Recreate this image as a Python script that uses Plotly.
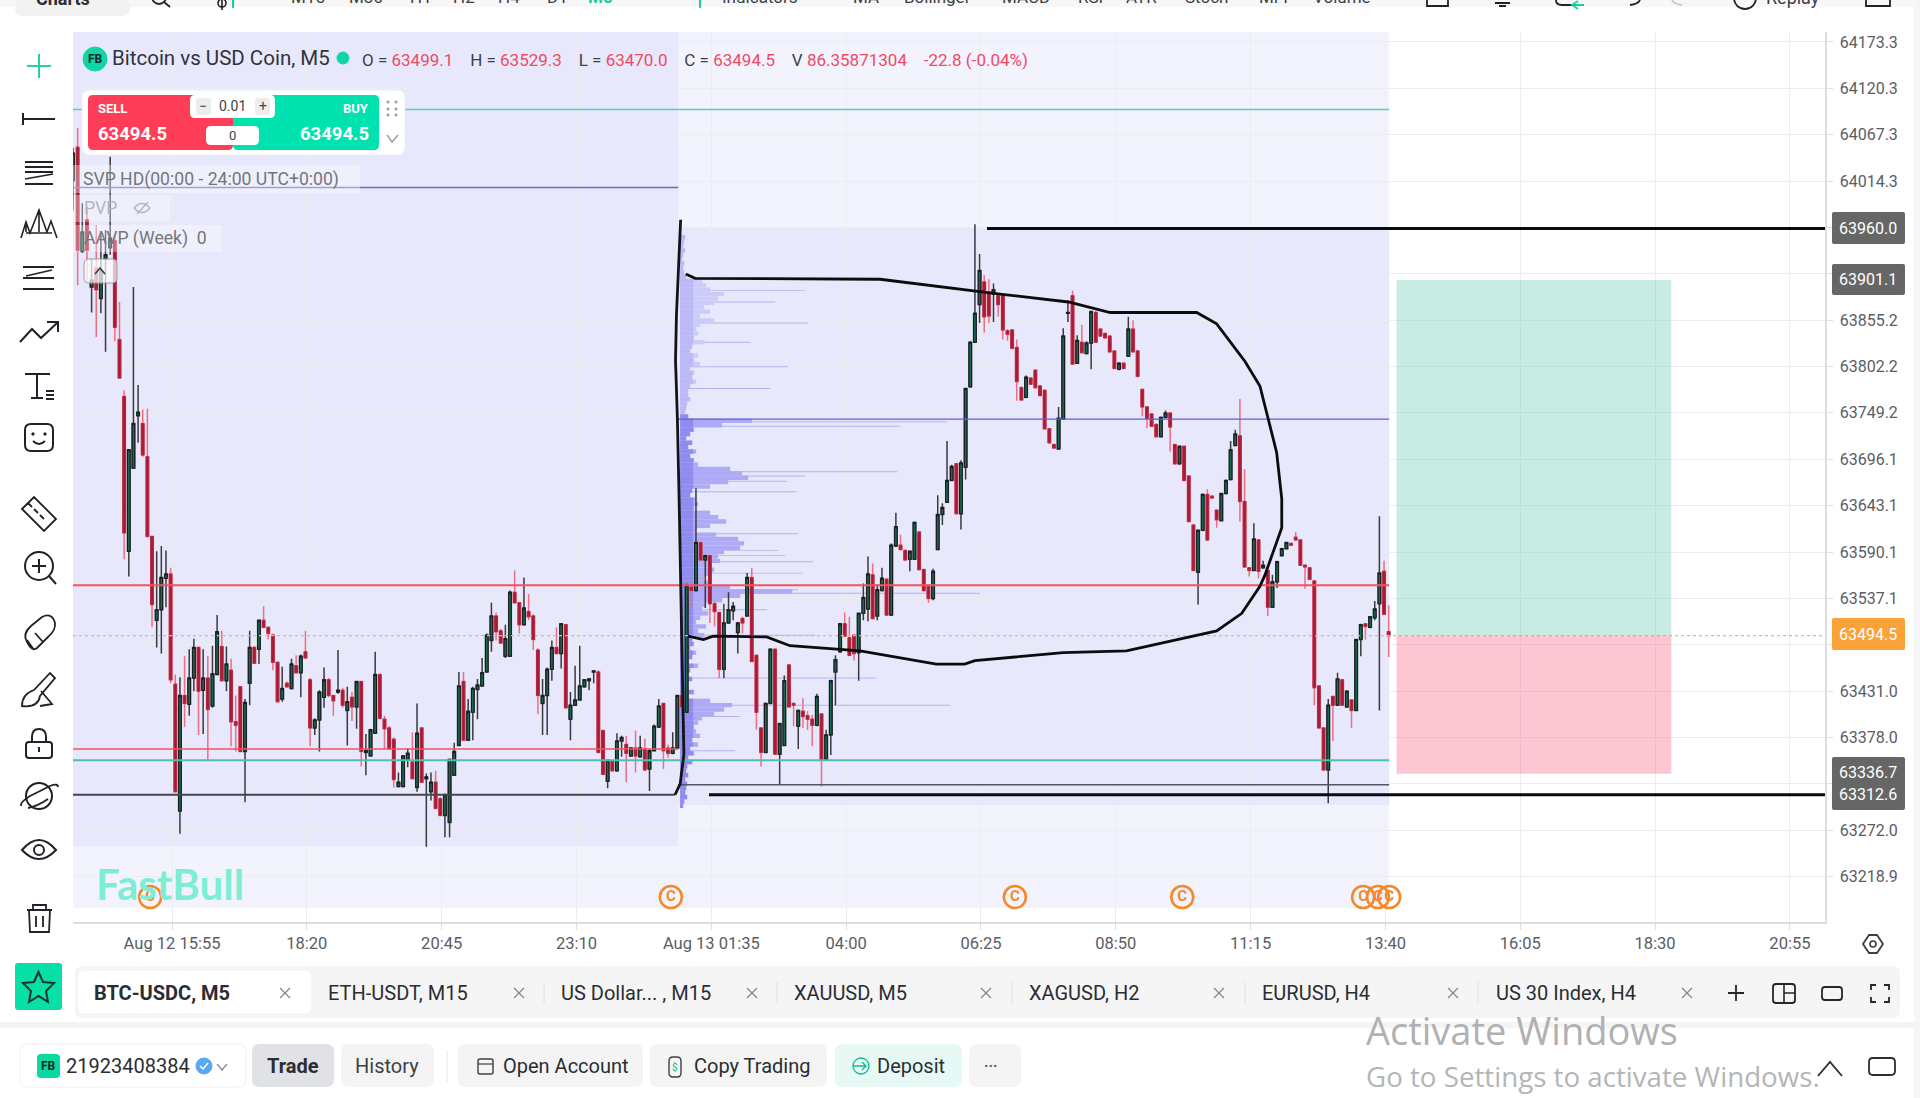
import plotly.graph_objects as go

# ---------- DATA ----------
opens = [64015,64053,63934,63970,63893,63915,63880,63925,63938,63946,
63833,63768,63591,63686,63746,63737,63699,63608,63512,63524,
63560,63565,63439,63294,63426,63416,63446,63481,63432,63446,
63414,63450,63482,63443,63455,63396,63436,63362,63440,63481,
63479,63512,63504,63495,63464,63422,63440,63434,63460,63452,
63476,63444,63389,63398,63424,63444,63426,63430,63432,63409,
63424,63413,63442,63361,63357,63383,63450,63399,63389,63376,
63322,63322,63353,63350,63321,63389,63331,63316,63327,63308,
63289,63281,63335,63369,63442,63375,63407,63433,63437,63453,
63489,63517,63500,63471,63471,63544,63532,63507,63522,63517,
63478,63417,63426,63456,63481,63474,63507,63399,63415,63421,
63436,63443,63453,63453,63386,63328,63351,63340,63374,63370,
63357,63366,63356,63365,63342,63363,63390,63417,63366,63360,
63366,63426,63407,63550,63546,63601,63581,63586,63531,63521,
63456,63509,63523,63498,63514,63517,63561,63472,63389,63361,
63417,63479,63359,63369,63461,63417,63391,63408,63403,63399,
63392,63405,63353,63381,63453,63476,63508,63492,63495,63475,
63520,63525,63564,63517,63546,63559,63518,63597,63598,63592,
63582,63582,63613,63570,63552,63537,63593,63633,63647,63672,
63691,63634,63687,63779,63830,63873,63899,63887,63885,63883,
63884,63843,63844,63824,63778,63767,63789,63798,63780,63775,
63731,63713,63708,63742,63863,63883,63806,63830,63817,63829,
63864,63845,63840,63837,63820,63799,63806,63814,63845,63820,
63776,63756,63748,63736,63722,63744,63749,63713,63691,63711,
63677,63621,63567,63615,63656,63654,63638,63626,63657,63673,
63712,63723,63648,63572,63569,63604,63572,63569,63527,63556,
63586,63594,63600,63607,63604,63575,63572,63557,63437,63389,
63341,63425,63415,63444,63413,63421,63409,63490,63508,63504,
63515,63531,63568,63499.1]
highs = [64052,64075,63989,63985,63925,63964,63957,63958,64042,63952,
63876,63775,63707,63893,63781,63753,63754,63608,63591,63597,
63592,63572,63450,63447,63471,63479,63491,63482,63479,63471,
63483,63518,63500,63482,63468,63426,63436,63422,63500,63483,
63513,63528,63505,63497,63464,63459,63442,63468,63472,63473,
63500,63446,63400,63432,63458,63446,63427,63478,63435,63436,
63430,63443,63443,63382,63388,63476,63451,63403,63391,63378,
63338,63358,63366,63384,63417,63390,63337,63338,63340,63310,
63314,63354,63372,63453,63453,63422,63436,63445,63469,63497,
63532,63521,63502,63507,63546,63569,63533,63561,63542,63519,
63480,63445,63458,63489,63504,63509,63508,63430,63460,63483,
63445,63446,63455,63455,63387,63353,63352,63383,63380,63380,
63367,63386,63380,63377,63365,63393,63422,63418,63370,63384,
63427,63428,63554,63552,63663,63602,63587,63587,63533,63522,
63531,63544,63533,63510,63516,63566,63572,63473,63390,63418,
63480,63480,63395,63449,63462,63418,63410,63423,63408,63404,
63428,63406,63387,63444,63472,63509,63521,63516,63496,63521,
63554,63585,63577,63553,63572,63560,63600,63635,63610,63593,
63592,63625,63614,63571,63553,63571,63655,63646,63717,63690,
63692,63695,63778,63831,63965,63931,63907,63902,63897,63884,
63885,63845,63845,63833,63780,63792,63790,63799,63781,63776,
63732,63714,63756,63846,63878,63889,63838,63850,63831,63866,
63866,63846,63841,63838,63821,63807,63807,63859,63855,63821,
63777,63757,63749,63737,63745,63752,63750,63714,63712,63712,
63678,63622,63616,63657,63662,63655,63639,63658,63673,63717,
63730,63765,63685,63573,63623,63605,63580,63570,63564,63580,
63595,63602,63601,63613,63605,63576,63573,63558,63438,63390,
63422,63426,63452,63445,63432,63422,63491,63508,63509,63517,
63534,63631,63580,63529.3]
lows = [63981,63895,63932,63900,63864,63836,63863,63819,63930,63831,
63789,63582,63562,63686,63715,63699,63608,63504,63481,63474,
63527,63440,63316,63268,63390,63403,63431,63381,63382,63351,
63412,63450,63442,63431,63368,63362,63362,63304,63415,63462,
63462,63503,63490,63455,63418,63419,63435,63433,63452,63424,
63469,63368,63381,63362,63412,63424,63403,63428,63412,63369,
63397,63388,63345,63335,63356,63382,63399,63365,63364,63321,
63321,63321,63344,63331,63316,63326,63253,63306,63296,63288,
63264,63264,63334,63368,63374,63374,63375,63399,63436,63452,
63476,63489,63485,63469,63470,63531,63497,63506,63512,63478,
63405,63381,63381,63443,63473,63457,63411,63375,63414,63420,
63435,63432,63440,63360,63335,63320,63339,63339,63356,63327,
63356,63338,63355,63340,63317,63362,63389,63342,63355,63359,
63365,63412,63406,63526,63545,63580,63526,63509,63505,63446,
63446,63508,63512,63474,63497,63516,63464,63387,63345,63360,
63416,63358,63324,63368,63412,63391,63365,63389,63387,63368,
63391,63322,63352,63358,63415,63475,63493,63471,63466,63443,
63512,63511,63513,63512,63545,63517,63517,63596,63592,63580,
63568,63581,63569,63545,63532,63535,63592,63621,63647,63671,
63633,63616,63673,63778,63829,63852,63841,63852,63853,63859,
63833,63832,63822,63763,63763,63766,63781,63777,63768,63730,
63714,63708,63708,63742,63853,63805,63805,63817,63816,63799,
63829,63836,63834,63818,63799,63798,63799,63813,63818,63790,
63745,63732,63733,63721,63721,63743,63705,63690,63690,63671,
63624,63568,63530,63614,63603,63651,63618,63625,63656,63672,
63711,63625,63572,63562,63568,63560,63571,63517,63526,63549,
63585,63593,63597,63603,63574,63548,63558,63415,63388,63340,
63303,63374,63414,63414,63412,63389,63408,63471,63490,63503,
63512,63409,63518,63470.0]
closes = [64046,63935,63956,63935,63901,63890,63912,63930,63949,63847,
63789,63612,63707,63737,63750,63701,63608,63530,63524,63561,
63565,63444,63316,63426,63417,63446,63481,63431,63446,63410,
63451,63499,63443,63462,63396,63392,63362,63418,63481,63463,
63512,63504,63497,63464,63419,63434,63436,63462,63452,63471,
63469,63389,63398,63430,63444,63426,63420,63432,63415,63419,
63413,63442,63362,63363,63387,63450,63400,63388,63365,63330,
63327,63357,63360,63331,63383,63327,63333,63327,63297,63289,
63312,63353,63362,63437,63375,63408,63434,63438,63452,63495,
63517,63499,63486,63491,63544,63532,63507,63526,63516,63490,
63426,63426,63456,63481,63474,63508,63412,63415,63421,63437,
63444,63445,63454,63361,63336,63352,63340,63374,63378,63360,
63366,63357,63366,63341,63363,63391,63414,63363,63360,63366,
63426,63413,63552,63546,63601,63581,63586,63531,63522,63456,
63509,63524,63528,63509,63509,63561,63465,63407,63361,63417,
63479,63359,63394,63443,63413,63415,63409,63402,63399,63392,
63425,63352,63381,63443,63467,63508,63494,63472,63474,63520,
63538,63565,63514,63547,63560,63518,63598,63619,63593,63581,
63591,63624,63570,63546,63537,63568,63633,63641,63672,63688,
63634,63692,63777,63830,63863,63912,63859,63860,63890,63873,
63844,63839,63823,63785,63764,63790,63782,63778,63769,63731,
63715,63709,63743,63837,63864,63805,63832,63818,63829,63865,
63830,63837,63835,63819,63800,63806,63800,63845,63819,63791,
63756,63743,63734,63722,63744,63749,63733,63691,63711,63672,
63625,63569,63615,63656,63604,63652,63627,63657,63672,63707,
63725,63648,63573,63569,63605,63568,63575,63527,63556,63579,
63594,63601,63598,63604,63575,63573,63559,63435,63389,63341,
63415,63415,63445,63415,63431,63409,63490,63507,63505,63516,
63525,63566,63519,63494.5]

x_tick_bars = [21,50,79,108,137,166,195,224,253,282,311,340,369]
x_tick_labels = ["Aug 12 15:55","18:20","20:45","23:10","Aug 13 01:35","04:00","06:25","08:50","11:15","13:40","16:05","18:30","20:55"]
y_tick_vals = [64173.3,64120.3,64067.3,64014.3,63961.2,63908.2,63855.2,63802.2,63749.2,63696.1,63643.1,63590.1,63537.1,63484.1,63431.0,63378.0,63325.0,63272.0,63218.9]
y_tick_hidden = [63961.2,63908.2,63484.1,63325.0]   # covered by the price tags in the reference

# session volume profile (price step 5, top price 63950)
vp_volume = [5,4,3,5,3,2,4,3,4,6,22,26,30,44,38,34,24,30,20,34,20,16,18,14,24,12,10,18,14,20,
10,14,12,16,10,8,8,10,7,6,5,8,72,42,14,10,6,12,8,16,10,14,18,50,62,68,48,30,12,10,
16,18,14,30,38,46,30,16,36,58,64,60,44,38,40,30,34,28,24,30,50,112,60,42,26,22,28,20,16,26,
18,24,12,14,10,16,12,8,18,10,8,12,8,6,14,8,30,52,44,34,22,18,14,16,20,12,18,10,14,8,
12,7,6,8,5,7,6,5,7,4,3]
spike_prices = [63889,63876,63852,63830,63802,63777,63739,63734,63682,63677,63671,63659,63611,63592,63586,63579,63566,63547,63543,63524,63495,63446,63415,63402,63363]
spike_volume = [125,95,128,70,108,90,267,220,217,125,107,116,118,98,105,133,123,118,300,87,135,196,270,60,55]

left_curve_bars = [130.4,129.5,129.3,129.7,130.1,130.6,131.0,131.1,130.3,129.2]
left_curve_prices = [63970,63861,63809,63743,63643,63512,63424,63359,63325,63312.6]
blob_bars = [131.5,133.5,173.3,194.0,199.1,213.8,222.8,241.4,245.7,251.8,255,258.6,259.7,259.7,256.1,255,251.1,245.7,226.3,212.7,199.1,193.7,191.5,185.4,169,153.9,148.9,137.4,135.3,132]
blob_prices = [63908,63903,63902,63888,63885,63876,63864,63864,63851,63808,63780,63704,63651,63618,63564,63551,63520,63500,63477,63475,63469,63466,63462,63462,63477,63483,63493,63494,63490,63494]

coin_bars = [16.3,128.3,202.3,238.3,277.2,280.4,282.8]
coin_price = 63195.6

last_price = 63494.5
take_profit = 63901.1
stop_loss = 63336.7
box_start, box_end = 284.4, 343.5

# ---------- geometry ----------
W, H = 1920, 1098
PX_L, PX_R, PX_T, PX_B = 73, 1825, 32, 922
X_RANGE = [-0.3, 376.55]
Y_RANGE = [63167.1, 64184.7]
sess = 129.9   # session boundary in bars
last = 282.8
right = X_RANGE[1]
left = X_RANGE[0]

FONT = "Roboto"
INK = "#3c3f46"
GREY = "#5a5d64"

shapes, annots = [], []

def rect(x0, y0, x1, y1, fill, line=None, r=0, lw=1, layer="above"):
    if r:
        p = (f"M{x0+r},{y0} L{x1-r},{y0} Q{x1},{y0} {x1},{y0+r} L{x1},{y1-r} Q{x1},{y1} {x1-r},{y1} "
             f"L{x0+r},{y1} Q{x0},{y1} {x0},{y1-r} L{x0},{y0+r} Q{x0},{y0} {x0+r},{y0} Z")
        shapes.append(dict(type="path", path=p, xref="x2", yref="y2", fillcolor=fill, layer=layer,
                           line=dict(color=line or "rgba(0,0,0,0)", width=lw)))
    else:
        shapes.append(dict(type="rect", x0=x0, y0=y0, x1=x1, y1=y1, xref="x2", yref="y2", fillcolor=fill, layer=layer,
                           line=dict(color=line or "rgba(0,0,0,0)", width=lw)))

def path(p, color="#1f2228", lw=2, fill=None):
    shapes.append(dict(type="path", path=p, xref="x2", yref="y2", fillcolor=fill or "rgba(0,0,0,0)",
                       line=dict(color=color, width=lw)))

def circ(cx, cy, r, color="#1f2228", lw=2, fill=None, ry=None):
    ry = ry or r
    shapes.append(dict(type="circle", x0=cx-r, x1=cx+r, y0=cy-ry, y1=cy+ry, xref="x2", yref="y2",
                       fillcolor=fill or "rgba(0,0,0,0)", line=dict(color=color, width=lw)))

def txt(x, y, s, size=16, color=INK, anchor="left", font=FONT, yshift=0):
    annots.append(dict(x=x, y=y, xref="x2", yref="y2", text=s, showarrow=False, xanchor=anchor, yanchor="middle",
                       font=dict(size=size, color=color, family=font), yshift=yshift, borderpad=0, borderwidth=0))

def zone(x0, y0, x1, y1, fill, layer="below"):
    shapes.append(dict(type="rect", x0=x0, x1=x1, y0=y0, y1=y1, xref="x", yref="y", fillcolor=fill, layer=layer,
                       line=dict(width=0)))

# session shading
zone(left, 63183, last, Y_RANGE[1], "#f3f3fe")
zone(left, 63254, sess, Y_RANGE[1], "#e7e8fb")
zone(sess, 63301, last, 63961, "#e7e8fb")
# risk/reward boxes
zone(box_start, last_price, box_end, take_profit, "rgba(118,205,185,0.40)", "above")
zone(box_start, stop_loss, box_end, last_price, "rgba(250,112,145,0.40)", "above")

fig = go.Figure()

# profile
vp_levels = [63950 - 5*k for k in range(len(vp_volume))]
bars_per_vol = 1/4.649
fig.add_trace(go.Bar(orientation="h", y=spike_prices, x=[v*bars_per_vol for v in spike_volume], base=130.3, width=1.1,
                     marker=dict(color="rgba(140,135,235,0.55)", line=dict(width=0)), hoverinfo="skip", showlegend=False))
fig.add_trace(go.Bar(orientation="h", y=vp_levels, x=[v*bars_per_vol for v in vp_volume], base=130.3, width=5.0,
                     marker=dict(color=["#cdcbf9" if p > 63745 else "#aeaaf5" for p in vp_levels], line=dict(width=0)),
                     hoverinfo="skip", showlegend=False))
fig.add_trace(go.Bar(orientation="h", y=vp_levels, x=[min(v, 13)*bars_per_vol for v in vp_volume], base=130.3, width=5.0,
                     marker=dict(color=["#bcb9f7" if p > 63745 else "#8f8bef" for p in vp_levels], line=dict(width=0)),
                     hoverinfo="skip", showlegend=False))

def hline(x0, x1, price, color, w, dash="solid"):
    fig.add_trace(go.Scatter(x=[x0, x1], y=[price, price], mode="lines", line=dict(color=color, width=w, dash=dash),
                             hoverinfo="skip", showlegend=False))

hline(left, last, 64096, "#5fcabb", 1.5)
hline(left, sess, 64007, "#6f68c9", 1.5)
hline(sess, last, 63742, "#5f5fdc", 1.3)
hline(left, last, 63552, "#f2545f", 2)
hline(left, sess, 63365, "#f2545f", 1.5)
hline(left, last, 63352, "#4fbfae", 2)
hline(sess, last, 63324, "#55565f", 1.5)
hline(left, right, last_price, "#f3b27a", 1.2, "dot")
hline(left, 129.2, 63312.6, "#45454f", 2.2)

bar_x = [k - 0.3 for k in range(len(opens))]
# full candle for the wicks, then the bodies over them with their own outline
fig.add_trace(go.Candlestick(
    x=bar_x, open=opens, high=highs, low=lows, close=closes,
    increasing=dict(line=dict(color="#3a3a40", width=1.5), fillcolor="#17694f"),
    decreasing=dict(line=dict(color="#ee6e82", width=1.5), fillcolor="#a91f37"),
    whiskerwidth=0, hoverinfo="skip", showlegend=False))
fig.add_trace(go.Candlestick(
    x=bar_x, open=opens, close=closes,
    high=[max(o, c) for o, c in zip(opens, closes)], low=[min(o, c) for o, c in zip(opens, closes)],
    increasing=dict(line=dict(color="#1a1a1e", width=1), fillcolor="#17694f"),
    decreasing=dict(line=dict(color="#b32540", width=1), fillcolor="#a31c34"),
    whiskerwidth=0, hoverinfo="skip", showlegend=False))

hline(196.3, right, 63960.0, "#0b0b0d", 3)
hline(136.5, right, 63312.6, "#0b0b0d", 3)

fig.add_trace(go.Scatter(x=left_curve_bars, y=left_curve_prices, mode="lines",
                         line=dict(color="#141417", width=2.8), hoverinfo="skip", showlegend=False))
fig.add_trace(go.Scatter(x=blob_bars, y=blob_prices, mode="lines",
                         line=dict(color="#0c0c0e", width=2.8), hoverinfo="skip", showlegend=False))
fig.add_trace(go.Scatter(x=coin_bars, y=[coin_price]*len(coin_bars), mode="markers+text", text=["<b>C</b>"]*len(coin_bars),
                         textposition="middle center", textfont=dict(size=15, color="#f5882a", family=FONT),
                         marker=dict(size=22, color="rgba(255,255,255,0)", line=dict(color="#f5882a", width=2.6)),
                         hoverinfo="skip", showlegend=False))
# anchor trace for the page-pixel overlay
fig.add_trace(go.Scatter(x=[0], y=[0], xaxis="x2", yaxis="y2", mode="markers", marker=dict(size=1, opacity=0),
                         hoverinfo="skip", showlegend=False))

# ---------- page furniture ----------
rect(0, 0, W, 7, "#f7f7f8")
rect(15, 0, 130, 16, "#f2f2f3", r=8)
txt(36, 0, "<b>Charts</b>", 18, "#2c2e33", yshift=2)
for x_, s_ in [(291,"M15"),(349,"M30"),(410,"H1"),(453,"H2"),(498,"H4"),(547,"D1")]:
    txt(x_, 0, s_, 17, "#3c3f46", yshift=3)
txt(588, 0, "<b>M5</b>", 17, "#19cfa0", yshift=3)
for x_, s_ in [(722,"Indicators"),(853,"MA"),(904,"Bollinger"),(1002,"MACD"),(1078,"RSI"),(1126,"ATR"),(1185,"Stoch"),(1259,"MFI"),(1313,"Volume")]:
    txt(x_, 0, s_, 17, "#3c3f46", yshift=3)
txt(1766, 0, "Replay", 18, "#3c3f46", yshift=3)
circ(159, -3, 7, "#1f2228", 1.8)
path("M164 2 L170 7", "#1f2228", 1.8)
path("M222 0 V10", "#1f2228", 1.6)
circ(222, 3, 4, "#1f2228", 1.6)
path("M233 0 V8", "#19cfa0", 2)
path("M700 0 V8", "#19cfa0", 2)
path("M1427 0 V6 H1448 V0", "#1f2228", 1.8)
path("M1495 3 H1510 M1499 6 H1506", "#1f2228", 1.8)
path("M1556 0 Q1556 5 1562 5 H1574", "#1f2228", 1.8)
path("M1574 5 H1584 M1578 1 L1572 5 L1578 9", "#19cfa0", 1.8)
path("M1630 5 Q1638 4 1640 0", "#1f2228", 1.8)
path("M1682 5 Q1674 4 1672 0", "#c8c9cc", 1.8)
circ(1745, -2, 11, "#1f2228", 1.8)
path("M1866 0 V6 H1890 V0", "#1f2228", 1.8)
rect(1914, 0, W, H, "#f6f6f7")
rect(0, 1022, W, 1028, "#f4f4f5")

# header
circ(95, 59, 12, "#10d6a6", 1, "#10d6a6")
txt(95, 59, "<b>FB</b>", 12, "#0d2b24", "center")
txt(112, 58, "Bitcoin vs USD Coin, M5", 20.5, "#30333a")
circ(343, 58, 6, "#10d6a6", 1, "#10d6a6")
R = "#ef4a63"
txt(362, 60, f'O = <span style="color:{R}">63499.1</span>    H = <span style="color:{R}">63529.3</span>    L = <span style="color:{R}">63470.0</span>    C = <span style="color:{R}">63494.5</span>    V <span style="color:{R}">86.35871304    -22.8 (-0.04%)</span>', 17, "#3c3f46")

# trading widget
rect(82, 90, 405, 155, "#ffffff", "#f0f0f3", r=8)
rect(88, 95, 233, 150, "#ff3d57", r=5)
rect(233, 95, 379, 150, "#00e3ae", r=5)
rect(190, 95, 275, 118, "#ffffff", r=5)
rect(196, 98, 211, 115, "#ededee", r=3)
rect(255, 98, 270, 115, "#ededee", r=3)
txt(203, 106, "−", 14, "#444", "center")
txt(263, 106, "+", 14, "#444", "center")
txt(232, 106, "0.01", 14, "#3c3f46", "center")
rect(206, 126, 259, 145, "#ffffff", r=5)
txt(232, 135, "0", 13, "#3c3f46", "center")
txt(98, 108, "<b>SELL</b>", 13, "#ffffff")
txt(369, 108, "<b>BUY</b>", 13, "#ffffff", "right")
txt(98, 134, "<b>63494.5</b>", 18.5, "#ffffff")
txt(369, 134, "<b>63494.5</b>", 18.5, "#ffffff", "right")
for dx in (388, 396):
    for dy in (102, 109, 115):
        circ(dx, dy, 1.1, "#9a9da3", 1, "#9a9da3")
path("M387 135 L392 142 L398 135", "#9a9da3", 1.4)

# legend rows
rect(73, 165, 360, 193, "rgba(255,255,255,0.35)")
rect(73, 195, 170, 222, "rgba(255,255,255,0.35)")
rect(73, 225, 222, 252, "rgba(255,255,255,0.35)")
txt(83, 179, "SVP HD(00:00 - 24:00 UTC+0:00)", 17.6, "#74767c")
txt(84, 208, "PVP", 17.6, "#b4b5bd")
path("M134 208 Q142 199 150 208 Q142 217 134 208 Z", "#b4b5bd", 1.3)
path("M137 214 L148 202", "#b4b5bd", 1.3)
txt(84, 238, "AAVP (Week)  0", 17.6, "#74767c")
rect(84, 259, 117, 283, "rgba(255,255,255,0.72)", "#9a9da3", r=5)
path("M95 274 L100 268 L105 274", "#3c3f46", 1.6)

# left toolbar
path("M39 54 V78 M27 66 H51", "#22d3a5", 2)
path("M23 113 V125 M23 119 H55", "#1f2228", 2)
path("M25 162 H53 M25 167 H53 M25 172 H53 M25 184 H53", "#1f2228", 1.8)
path("M25 179 L53 174", "#1f2228", 1.6)
path("M21 238 L26 222 L30 233 L39 210 L47 232 L51 221 L57 238 M26 222 L26 232 M39 210 L39 232 M26 233 L52 233", "#1f2228", 1.6)
path("M23 267 H54 M23 289 H54 M23 278 H54", "#1f2228", 1.8)
path("M26 276 L52 270", "#1f2228", 1.6)
path("M20 342 L32 329 L41 338 L57 323 M47 322 H58 V332", "#1f2228", 2)
path("M25 374 H50 M37 374 V398 M31 398 H43 M46 391 H54 M46 395 H54 M46 399 H54", "#1f2228", 2)
rect(25, 424, 53, 451, "rgba(0,0,0,0)", "#1f2228", r=6, lw=2)
circ(33, 434, 1.2, "#1f2228", 1, "#1f2228"); circ(45, 434, 1.2, "#1f2228", 1, "#1f2228")
path("M33 441 Q39 447 45 441", "#1f2228", 1.8)
path("M22 509 L34 497 L56 519 L44 531 Z M28 503 L32 507 M34 509 L38 513 M40 515 L44 519", "#1f2228", 1.8)
circ(39, 566, 14, "#1f2228", 2)
path("M39 559 V573 M32 566 H46 M49 576 L56 584", "#1f2228", 2)
path("M27 642 Q22 634 31 626 L42 617 Q52 612 55 623 Q56 630 48 637 L37 648 Q32 652 27 642 Z M35 633 L43 642 M27 640 L34 650", "#1f2228", 1.8)
path("M22 706 Q22 694 34 690 L50 673 L55 678 L40 696 Q38 708 22 706 Z M41 691 L52 704 L40 706", "#1f2228", 1.8)
rect(26, 742, 52, 758, "rgba(0,0,0,0)", "#1f2228", r=3, lw=2)
path("M32 742 V737 Q32 729 39 729 Q46 729 46 737 V742 M39 747 V752", "#1f2228", 2)
circ(39, 796, 13, "#1f2228", 2)
path("M21 806 Q20 802 30 796 L50 786 Q58 783 58 787 M28 808 Q38 806 48 799", "#1f2228", 1.8)
path("M22 850 Q39 830 56 850 Q39 868 22 850 Z", "#1f2228", 2)
circ(39, 850, 5, "#1f2228", 2)
path("M27 910 H52 M33 910 V905 H46 V910 M29 910 L30 932 H49 L50 910 M36 916 V927 M43 916 V927", "#1f2228", 1.8)
rect(15, 963, 62, 1010, "#07dfa6", r=3)
path("M38.5 972 L43 982 L54 983 L46 991 L48 1002 L38.5 996 L29 1002 L31 991 L23 983 L34 982 Z", "#14352c", 2)

# price tags
def tag(y0, y1, fill):
    rect(1832, y0, 1905, y1, fill, r=2)
tag(212, 244, "#666666"); txt(1868, 228, "63960.0", 16, "#ffffff", "center")
tag(264, 295, "#666666"); txt(1868, 279, "63901.1", 16, "#ffffff", "center")
tag(618, 650, "#faa137"); txt(1868, 634, "63494.5", 16, "#ffffff", "center")
tag(757, 810, "#666666"); txt(1868, 772, "63336.7", 16, "#ffffff", "center"); txt(1868, 794, "63312.6", 16, "#ffffff", "center")

# gear
path("M1869 935 L1877 935 L1883 944 L1877 953 L1869 953 L1863 944 Z", "#3c3f46", 1.8)
circ(1873, 944, 3, "#3c3f46", 1.6, None)

# watermark logo
txt(96, 884, "<b>FastBull</b>", 42, "#7deed4", "left", "Lato")

# tabs
rect(75, 966, 1900, 1018, "#f5f5f6", r=8)
rect(78, 971, 311, 1013, "#ffffff", r=6)
for x_, s_ in [(94,"BTC-USDC, M5"),(328,"ETH-USDT, M15"),(561,"US Dollar... , M15"),(794,"XAUUSD, M5"),(1029,"XAGUSD, H2"),(1262,"EURUSD, H4"),(1496,"US 30 Index, H4")]:
    txt(x_, 993, s_ if x_ != 94 else f"<b>{s_}</b>", 20, "#2b2d33")
for x_ in (285, 519, 752, 986, 1219, 1453, 1687):
    path(f"M{x_-5} 988 L{x_+5} 998 M{x_+5} 988 L{x_-5} 998", "#85878c", 1.3)
for x_ in (544, 777, 1012, 1245, 1478):
    path(f"M{x_} 982 V1004", "#dfe0e3", 1)
path("M1736 985 V1001 M1728 993 H1744", "#25272c", 1.8)
rect(1773, 984, 1795, 1003, "rgba(0,0,0,0)", "#25272c", r=3, lw=1.8)
path("M1784 984 V1003 M1784 993 H1795", "#25272c", 1.6)
rect(1822, 987, 1842, 1000, "rgba(0,0,0,0)", "#25272c", r=3, lw=1.8)
path("M1871 990 V985 H1876 M1884 985 H1889 V990 M1889 997 V1002 H1884 M1876 1002 H1871 V997", "#25272c", 1.8)

# bottom row
rect(20, 1044, 246, 1087, "#ffffff", "#eeeff1", r=8)
rect(37, 1054, 60, 1078, "#0bd9a3", r=4)
txt(48, 1066, "<b>FB</b>", 12, "#0d2b24", "center")
txt(66, 1066, "21923408384", 20, "#2b2d33")
circ(204, 1066, 8, "#5aa8ef", 1, "#5aa8ef")
path("M200 1066 L203 1069 L208 1063", "#ffffff", 1.5)
path("M217 1064 L222 1070 L227 1064", "#85878c", 1.2)
rect(252, 1044, 334, 1087, "#e0e2e5", r=8)
txt(293, 1066, "<b>Trade</b>", 20, "#2b2d33", "center")
rect(341, 1044, 434, 1087, "#f4f4f5", r=8)
txt(387, 1066, "History", 20, "#3c3f46", "center")
path("M447 1050 V1082", "#e6e7e9", 1)
rect(458, 1044, 643, 1087, "#f4f4f5", r=8)
rect(478, 1059, 493, 1074, "rgba(0,0,0,0)", "#3c3f46", r=2, lw=1.4)
path("M478 1064 H493", "#3c3f46", 1.2)
txt(503, 1066, "Open Account", 20, "#2b2d33")
rect(650, 1044, 827, 1087, "#f4f4f5", r=8)
rect(669, 1057, 681, 1077, "rgba(0,0,0,0)", "#3c3f46", r=4, lw=1.4)
txt(675, 1067, "$", 10, "#11b98d", "center")
txt(694, 1066, "Copy Trading", 20, "#2b2d33")
rect(835, 1044, 962, 1087, "#e6f9f4", r=8)
circ(861, 1066, 8, "#11b98d", 1.3)
path("M853 1066 H866 M862 1062 L866 1066 L862 1070", "#11b98d", 1.3)
txt(877, 1066, "Deposit", 20, "#2b2d33")
rect(969, 1044, 1021, 1087, "#f4f4f5", r=8)
txt(991, 1066, "<b>···</b>", 15, "#55585e", "center")
txt(1366, 1030, "Activate Windows", 38, "#b0b1b3", "left", "Open Sans")
txt(1366, 1076, "Go to Settings to activate Windows.", 27.7, "#b4b5b7", "left", "Open Sans")
path("M1818 1076 L1830 1062 L1842 1076", "#2b2d33", 1.8)
rect(1869, 1058, 1895, 1075, "rgba(0,0,0,0)", "#2b2d33", r=4, lw=1.8)

fig.update_layout(
    width=W, height=H, margin=dict(l=0, r=0, t=0, b=0), autosize=False,
    paper_bgcolor="#ffffff", plot_bgcolor="rgba(0,0,0,0)", showlegend=False, dragmode=False,
    barmode="overlay", boxgap=0.2, hovermode=False,
    font=dict(family=FONT, size=16, color=GREY),
    xaxis=dict(domain=[PX_L/W, PX_R/W], range=X_RANGE, tickmode="array", tickvals=x_tick_bars, ticktext=x_tick_labels,
               rangeslider=dict(visible=False), showgrid=True, gridcolor="#ecedf1", gridwidth=1, zeroline=False,
               showline=True, linecolor="#dcdde0", linewidth=1.5, ticks="outside", ticklen=6, tickcolor="#dcdde0",
               tickfont=dict(size=16.5, color=GREY, family=FONT), anchor="y", fixedrange=True),
    yaxis=dict(domain=[1-PX_B/H, 1-PX_T/H], range=Y_RANGE, side="right", tickmode="array", tickvals=y_tick_vals,
               ticktext=["" if v in y_tick_hidden else f"{v:.1f}" for v in y_tick_vals],
               showgrid=True, gridcolor="#ecedf1", gridwidth=1, zeroline=False,
               showline=True, linecolor="#dcdde0", linewidth=1.5, ticks="outside", ticklen=6, tickcolor="#dcdde0",
               ticklabelstandoff=4, tickfont=dict(size=16, color=GREY, family=FONT), anchor="x", fixedrange=True),
    xaxis2=dict(domain=[0, 1], range=[0, W], visible=False, anchor="y2", fixedrange=True),
    yaxis2=dict(domain=[0, 1], range=[H, 0], visible=False, anchor="x2", fixedrange=True),
    shapes=shapes, annotations=annots,
)

fig.write_html("out.html", config=dict(displayModeBar=False, staticPlot=True),
               post_script="document.body.style.margin='0';document.body.style.overflow='hidden';")
